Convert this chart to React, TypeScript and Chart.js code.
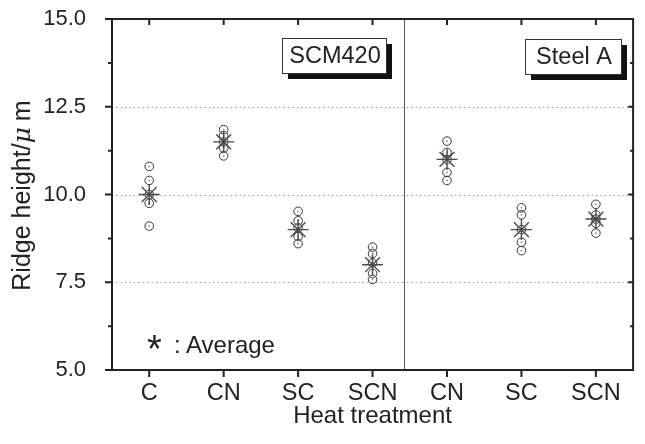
import React, { useEffect, useRef } from 'react';
import { Chart, registerables } from 'chart.js';

Chart.register(...registerables);

const categories = ['C', 'CN', 'SC', 'SCN', 'CN', 'SC', 'SCN'];
const groupNames = ['SCM420', 'Steel A'];
const yTickValues = [5, 7.5, 10, 12.5, 15];
const yMinorValues = [6.25, 8.75, 11.25, 13.75];
const groupDivider = 3.42;

const measuredC = [10.8, 10.4, 10.0, 9.75, 9.1];
const measuredCN1 = [11.85, 11.68, 11.5, 11.32, 11.1];
const measuredSC1 = [9.52, 9.25, 9.05, 8.8, 8.6];
const measuredSCN1 = [8.5, 8.32, 8.05, 7.75, 7.58];
const measuredCN2 = [11.52, 11.2, 11.0, 10.63, 10.4];
const measuredSC2 = [9.62, 9.42, 9.0, 8.64, 8.4];
const measuredSCN2 = [9.72, 9.42, 9.3, 9.18, 8.9];
const measured = [measuredC, measuredCN1, measuredSC1, measuredSCN1, measuredCN2, measuredSC2, measuredSCN2];
const averages = [10.0, 11.5, 9.0, 8.0, 11.0, 9.0, 9.3];

const xTitle = 'Heat treatment';
const FONT = '"Liberation Sans", Arial, Helvetica, sans-serif';
const INK = '#222222';

const framePlugin = {
  id: 'framePlugin',
  beforeDatasetsDraw(chart: any) {
    const { ctx, chartArea } = chart;
    const { left, right, top, bottom } = chartArea;
    const y = chart.scales.y;
    const x = chart.scales.x;
    ctx.save();
    ctx.strokeStyle = '#8a8a8a';
    ctx.lineWidth = 1;
    ctx.setLineDash([1.2, 3.2]);
    yTickValues.forEach((v) => {
      if (v === y.min || v === y.max) return;
      const py = Math.round(y.getPixelForValue(v)) + 0.5;
      ctx.beginPath();
      ctx.moveTo(left, py);
      ctx.lineTo(right, py);
      ctx.stroke();
    });
    ctx.setLineDash([]);
    const dx = Math.round(x.getPixelForValue(groupDivider)) + 0.5;
    ctx.strokeStyle = '#555555';
    ctx.lineWidth = 1;
    ctx.beginPath();
    ctx.moveTo(dx, top);
    ctx.lineTo(dx, bottom);
    ctx.stroke();
    ctx.restore();
  },
  afterDraw(chart: any) {
    const { ctx, chartArea } = chart;
    const { left, right, top, bottom } = chartArea;
    const y = chart.scales.y;
    const x = chart.scales.x;
    ctx.save();
    ctx.strokeStyle = INK;
    ctx.lineWidth = 2;
    ctx.strokeRect(left, top, right - left, bottom - top);
    categories.forEach((_, i) => {
      const px = x.getPixelForValue(i);
      ctx.beginPath();
      ctx.moveTo(px, bottom);
      ctx.lineTo(px, bottom + 7);
      ctx.moveTo(px, top);
      ctx.lineTo(px, top + 6);
      ctx.stroke();
    });
    yTickValues.forEach((v) => {
      const py = y.getPixelForValue(v);
      ctx.beginPath();
      ctx.moveTo(left - 7, py);
      ctx.lineTo(left, py);
      ctx.moveTo(right, py);
      ctx.lineTo(right - 5, py);
      ctx.stroke();
    });
    yMinorValues.forEach((v) => {
      const py = y.getPixelForValue(v);
      ctx.beginPath();
      ctx.moveTo(left - 4, py);
      ctx.lineTo(left, py);
      ctx.moveTo(right, py);
      ctx.lineTo(right - 3, py);
      ctx.stroke();
    });

    // x tick labels and title
    ctx.fillStyle = INK;
    ctx.textAlign = 'center';
    ctx.textBaseline = 'alphabetic';
    ctx.font = `23.5px ${FONT}`;
    categories.forEach((c, i) => {
      ctx.fillText(c, x.getPixelForValue(i), bottom + 30);
    });
    ctx.font = `24px ${FONT}`;
    ctx.fillText(xTitle, (left + right) / 2, bottom + 53);

    // group label boxes
    const boxes = [
      { text: groupNames[0], x: 282, y: 38, w: 104, h: 35 },
      { text: groupNames[1], x: 525, y: 39, w: 96, h: 35 },
    ];
    boxes.forEach((b) => {
      ctx.fillStyle = '#111111';
      ctx.fillRect(b.x + 6, b.y + 6, b.w, b.h);
      ctx.fillStyle = '#ffffff';
      ctx.fillRect(b.x, b.y, b.w, b.h);
      ctx.strokeStyle = '#333333';
      ctx.lineWidth = 1;
      ctx.strokeRect(b.x + 0.5, b.y + 0.5, b.w, b.h);
      ctx.fillStyle = INK;
      ctx.font = `23.5px ${FONT}`;
      ctx.textAlign = 'center';
      ctx.textBaseline = 'middle';
      ctx.fillText(b.text, b.x + b.w / 2 + 1, b.y + b.h / 2 + 1);
    });

    // average note
    ctx.fillStyle = INK;
    ctx.textAlign = 'left';
    ctx.textBaseline = 'alphabetic';
    ctx.font = `38px ${FONT}`;
    ctx.fillText('*', 147, 362);
    ctx.font = `24px ${FONT}`;
    ctx.fillText(':', 174, 353);
    ctx.fillText('Average', 186, 353);

    // y title
    ctx.translate(23, (top + bottom) / 2 + 1);
    ctx.rotate(-Math.PI / 2);
    const part1 = 'Ridge height/';
    const part2 = 'μ';
    const part3 = 'm';
    const fs = 25;
    ctx.font = `${fs}px ${FONT}`;
    const w1 = ctx.measureText(part1).width;
    ctx.font = `italic ${fs}px "DejaVu Serif", serif`;
    const w2 = ctx.measureText(part2).width;
    ctx.font = `${fs}px ${FONT}`;
    const w3 = ctx.measureText(part3).width;
    const gap = 6;
    const total = w1 + w2 + gap + w3;
    let cx = -total / 2;
    ctx.textBaseline = 'middle';
    ctx.fillText(part1, cx, 0);
    cx += w1;
    ctx.font = `italic ${fs}px "DejaVu Serif", serif`;
    ctx.fillText(part2, cx, 0);
    cx += w2 + gap;
    ctx.font = `${fs}px ${FONT}`;
    ctx.fillText(part3, cx, 0);
    ctx.restore();
  },
};

export default function App() {
  const canvasRef = useRef<HTMLCanvasElement | null>(null);

  useEffect(() => {
    document.body.style.margin = '0';
    const canvas = canvasRef.current;
    if (!canvas) return;

    const points = measured.flatMap((vals, i) => vals.map((v) => ({ x: i, y: v })));
    const avgPoints = averages.map((v, i) => ({ x: i, y: v }));

    const chart = new Chart(canvas, {
      type: 'scatter',
      data: {
        datasets: [
          {
            label: 'Average',
            data: avgPoints,
            pointStyle: 'star',
            radius: 10.5,
            borderColor: '#4a4a4a',
            borderWidth: 1.4,
            backgroundColor: '#4a4a4a',
          },
          {
            label: 'centers',
            data: points,
            pointStyle: 'circle',
            radius: 0.9,
            borderWidth: 0,
            backgroundColor: '#888888',
          },
          {
            label: 'Measured',
            data: points,
            pointStyle: 'circle',
            radius: 4.3,
            borderColor: '#333333',
            borderWidth: 1,
            backgroundColor: 'rgba(255,255,255,0)',
          },
        ],
      },
      options: {
        animation: false,
        responsive: true,
        maintainAspectRatio: false,
        layout: { padding: { top: 19, right: 9, left: 0, bottom: 0 } },
        plugins: { legend: { display: false }, tooltip: { enabled: false } },
        scales: {
          x: {
            type: 'linear',
            min: -0.5,
            max: 6.5,
            afterBuildTicks: (scale: any) => {
              scale.ticks = categories.map((_, i) => ({ value: i }));
            },
            afterFit: (scale: any) => {
              scale.height = 74;
              scale.paddingLeft = 0;
              scale.paddingRight = 0;
            },
            grid: { display: false },
            border: { display: false },
            ticks: { display: false },
          },
          y: {
            type: 'linear',
            min: 5,
            max: 15,
            afterBuildTicks: (scale: any) => {
              scale.ticks = yTickValues.map((v) => ({ value: v }));
            },
            afterFit: (scale: any) => {
              scale.width = 112;
              scale.paddingTop = 0;
              scale.paddingBottom = 0;
            },
            grid: { display: false },
            border: { display: false },
            ticks: {
              padding: 18,
              color: INK,
              font: { family: FONT, size: 22 },
              callback: (v: any) => Number(v).toFixed(1),
            },
          },
        },
      },
      plugins: [framePlugin],
    });

    return () => chart.destroy();
  }, []);

  return (
    <div style={{ width: 645, height: 444, position: 'relative' }}>
      <canvas ref={canvasRef} />
    </div>
  );
}
